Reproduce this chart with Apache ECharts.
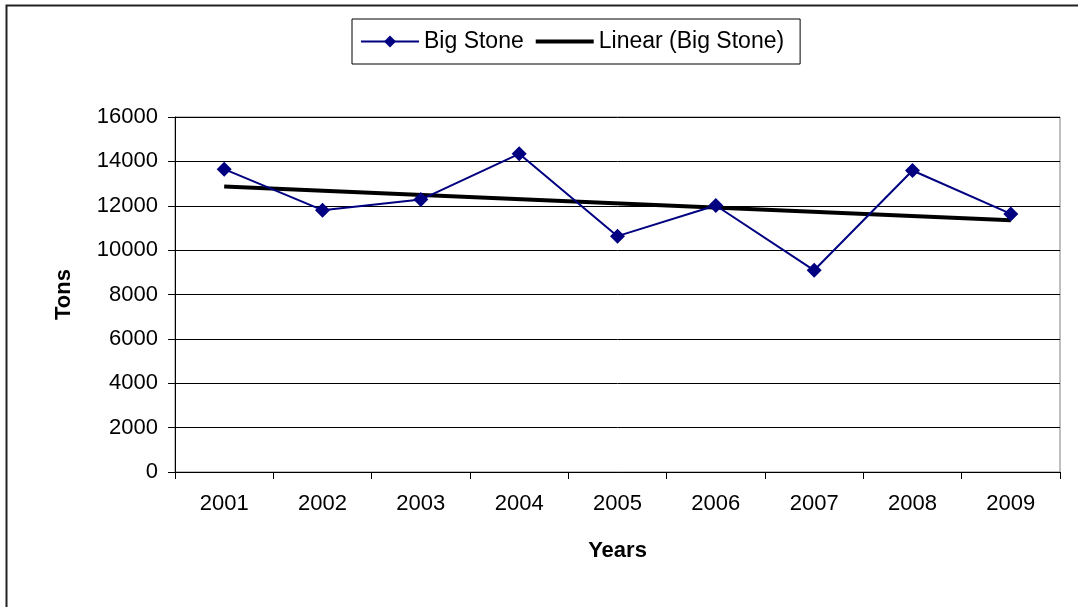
<!DOCTYPE html>
<html>
<head>
<meta charset="utf-8">
<script src="https://cdn.jsdelivr.net/npm/echarts@6/dist/echarts.min.js"></script>
<style>
  html, body { margin: 0; padding: 0; background: #fff; }
  #chart { width: 1078px; height: 607px; }
</style>
</head>
<body>
<div id="chart"></div>
<script>
// Annual tonnage, Big Stone
const years = ['2001', '2002', '2003', '2004', '2005', '2006', '2007', '2008', '2009'];
const bigStone = [13650, 11800, 12280, 14340, 10630, 12010, 9090, 13590, 11630];
// Linear trend line endpoints (first and last year)
const trendStart = 12870;
const trendEnd = 11350;
const yTicks = [0, 2000, 4000, 6000, 8000, 10000, 12000, 14000, 16000];

const font = '"Liberation Sans", Arial, sans-serif';

const chart = echarts.init(document.getElementById('chart'));
chart.setOption({
  animation: false,
  backgroundColor: '#fff',
  textStyle: { fontFamily: font, color: '#000' },
  graphic: [{
    type: 'rect',
    shape: { x: 6.5, y: 5.5, width: 2000, height: 2000 },
    style: { fill: 'none', stroke: '#222', lineWidth: 2 },
    silent: true
  }],
  legend: {
    left: 352,
    top: 19,
    padding: [11, 16, 11, 8],
    itemGap: 12,
    itemWidth: 58,
    itemHeight: 15,
    borderColor: '#000',
    borderWidth: 1,
    textStyle: { fontSize: 23, color: '#000', fontFamily: font },
    data: [
      { name: 'Big Stone' },
      { name: 'Linear (Big Stone)', icon: 'path://M0,0H60V4H0Z' }
    ]
  },
  grid: {
    left: 175,
    right: 18,
    top: 117,
    bottom: 135,
    show: true,
    borderColor: '#808080',
    borderWidth: 1
  },
  xAxis: {
    type: 'category',
    data: years,
    boundaryGap: true,
    name: 'Years',
    nameLocation: 'middle',
    nameGap: 68,
    nameTextStyle: { fontSize: 22, fontWeight: 'bold', color: '#000', fontFamily: font },
    axisLine: { lineStyle: { color: '#000', width: 1 } },
    axisTick: { show: true, interval: 0, length: 7, lineStyle: { color: '#000' } },
    axisLabel: { fontSize: 22, color: '#000', margin: 21, interval: 0, fontFamily: font },
    splitLine: { show: false }
  },
  yAxis: {
    type: 'value',
    min: yTicks[0],
    max: yTicks[yTicks.length - 1],
    interval: yTicks[1] - yTicks[0],
    name: 'Tons',
    nameLocation: 'middle',
    nameGap: 100,
    nameRotate: 90,
    nameTextStyle: { fontSize: 22, fontWeight: 'bold', color: '#000', fontFamily: font },
    axisLine: { show: true, lineStyle: { color: '#000', width: 1 } },
    axisTick: { show: true, length: 7, lineStyle: { color: '#000' } },
    axisLabel: {
      fontSize: 22, color: '#000', margin: 17, fontFamily: font,
      formatter: (v) => String(v)
    },
    splitLine: { show: true, lineStyle: { color: '#000', width: 1 } }
  },
  series: [
    {
      name: 'Big Stone',
      type: 'line',
      data: bigStone,
      symbol: 'diamond',
      symbolSize: 15,
      color: '#000080',
      lineStyle: { color: '#000080', width: 2 },
      itemStyle: { color: '#000080' },
      z: 3
    },
    {
      name: 'Linear (Big Stone)',
      type: 'line',
      data: [[years[0], trendStart], [years[years.length - 1], trendEnd]],
      symbol: 'none',
      color: '#000',
      lineStyle: { color: '#000', width: 4 },
      z: 2
    }
  ]
});
</script>
</body>
</html>
